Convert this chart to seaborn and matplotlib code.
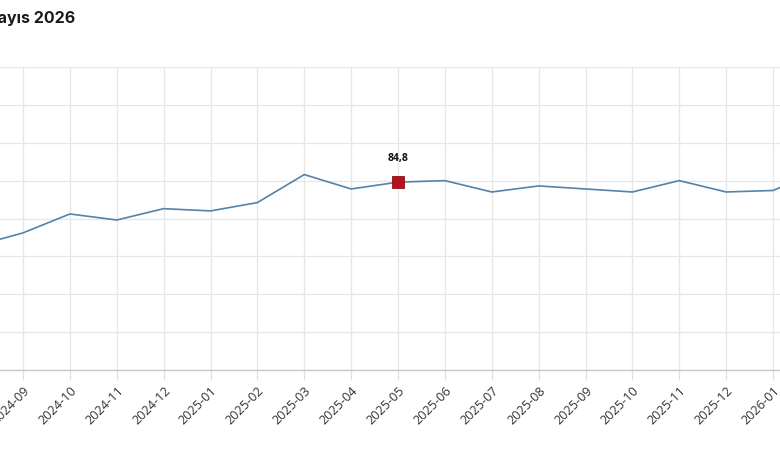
import numpy as np
import pandas as pd
import matplotlib.pyplot as plt
import seaborn as sns

# monthly index values (first and last point run past the edges)
months = ['2024-08', '2024-09', '2024-10', '2024-11', '2024-12', '2025-01',
          '2025-02', '2025-03', '2025-04', '2025-05', '2025-06', '2025-07',
          '2025-08', '2025-09', '2025-10', '2025-11', '2025-12', '2026-01',
          '2026-02']
values = [76.4, 78.1, 80.6, 79.8, 81.3, 81.0, 82.1, 85.8, 83.9, 84.8, 85.0,
          83.5, 84.3, 83.9, 83.5, 85.0, 83.5, 83.7, 86.3]
highlight_month = '2025-05'
highlight_label = '84,8'
title_text = 'Mayıs 2026'
y_ticks = [60, 65, 70, 75, 80, 85, 90, 95, 100]

df = pd.DataFrame({'ay': months, 'deger': values})
df['pos'] = np.arange(len(df))
hl = df[df['ay'] == highlight_month]

sns.set_theme(style='whitegrid')
plt.rcParams['font.family'] = ['Open Sans', 'DejaVu Sans']

W, H = 780, 453
fig = plt.figure(figsize=(W / 100, H / 100), dpi=100)

# the picture is a crop of a wider chart: the axes run past the figure edges
left_px, right_px = -60, 850
top_px, bottom_px = 67, 370
ax = fig.add_axes([left_px / W, 1 - bottom_px / H,
                   (right_px - left_px) / W, (bottom_px - top_px) / H])

step = 46.875          # pixels per month
x0_px = 23             # pixel of 2024-09 (pos 1)
ax.set_xlim(1 + (left_px - x0_px) / step, 1 + (right_px - x0_px) / step)
ax.set_ylim(y_ticks[0], y_ticks[-1])

sns.lineplot(data=df, x='pos', y='deger', ax=ax, color='#5582a8',
             linewidth=1.2, zorder=3)
sns.scatterplot(data=hl, x='pos', y='deger', ax=ax, marker='s', s=64,
                color='#b3141c', edgecolor='#8c1018', linewidth=0.6, zorder=4)

for _, r in hl.iterrows():
    ax.annotate(highlight_label, (r['pos'], r['deger']), xytext=(0, 17),
                textcoords='offset points', ha='center', va='center',
                fontsize=7.5, fontweight='bold', color='#111111')

ax.set_xticks(df['pos'], labels=df['ay'])
ax.set_yticks(y_ticks)
ax.set_yticklabels([])
ax.set_xlabel('')
ax.set_ylabel('')

ax.grid(True, color='#e6e6e6', linewidth=0.9)
for side in ['top', 'right', 'left']:
    ax.spines[side].set_visible(False)
ax.spines['bottom'].set_color('#c8c8c8')
ax.spines['bottom'].set_linewidth(1.0)

ax.tick_params(axis='x', length=7, width=0.9, color='#e0e0e0', pad=3,
               labelsize=9.2, labelcolor='#333333', bottom=True)
ax.tick_params(axis='y', length=0)
for lbl in ax.get_xticklabels():
    lbl.set_rotation(45)
    lbl.set_ha('right')
    lbl.set_rotation_mode('anchor')

fig.text(75 / W, 1 - 23 / H, title_text, ha='right', va='baseline',
         fontsize=11.5, fontweight='bold', color='#1a1a1a',
         family=['Inter', 'DejaVu Sans'])

fig.savefig('out.png', dpi=100)
